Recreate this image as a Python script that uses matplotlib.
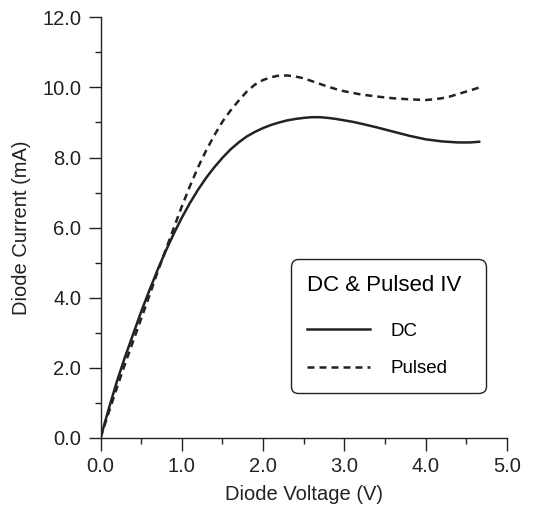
import matplotlib
matplotlib.use("Agg")
import matplotlib.pyplot as plt

plt.rcParams['font.family'] = ['Liberation Sans', 'DejaVu Sans']

# valores
v_dc = [0, 0.1, 0.2, 0.3, 0.4, 0.5, 0.6, 0.7, 0.8, 0.9, 1.0, 1.1, 1.2, 1.3, 1.4, 1.5,
        1.6, 1.7, 1.8, 1.9, 2.0, 2.1, 2.2, 2.3, 2.4, 2.5, 2.6, 2.7, 2.8, 2.9, 3.0,
        3.1, 3.2, 3.4, 3.6, 3.8, 4.0, 4.2, 4.4, 4.55, 4.66]
i_dc = [0, 0.82, 1.6, 2.3, 2.95, 3.6, 4.2, 4.78, 5.32, 5.82, 6.28, 6.7, 7.08, 7.42, 7.72,
        7.99, 8.23, 8.43, 8.6, 8.73, 8.84, 8.93, 9.0, 9.06, 9.1, 9.13, 9.15, 9.15, 9.13,
        9.1, 9.06, 9.02, 8.97, 8.86, 8.74, 8.62, 8.52, 8.46, 8.43, 8.43, 8.45]

v_pulsed = [0, 0.1, 0.2, 0.3, 0.4, 0.5, 0.6, 0.7, 0.8, 0.9, 1.0, 1.1, 1.2, 1.3, 1.4, 1.5,
            1.6, 1.7, 1.8, 1.9, 2.0, 2.1, 2.2, 2.3, 2.4, 2.5, 2.6, 2.7, 2.8, 2.9, 3.0,
            3.2, 3.4, 3.6, 3.8, 4.0, 4.1, 4.2, 4.3, 4.4, 4.5, 4.6, 4.66]
i_pulsed = [0, 0.72, 1.42, 2.1, 2.75, 3.4, 4.05, 4.72, 5.35, 5.98, 6.6, 7.18, 7.72, 8.2,
            8.63, 9.02, 9.34, 9.62, 9.88, 10.08, 10.21, 10.29, 10.34, 10.34, 10.31, 10.26,
            10.18, 10.1, 10.02, 9.95, 9.89, 9.8, 9.74, 9.69, 9.66, 9.64, 9.66, 9.69, 9.74,
            9.81, 9.88, 9.95, 10.0]

x_ticks = [0, 1, 2, 3, 4, 5]
y_ticks = [0, 2, 4, 6, 8, 10, 12]

fig = plt.figure(figsize=(5.36, 5.16), dpi=100)
ax = fig.add_axes([0.1875, 0.1512, 0.758, 0.8153])

cor = "#222222"
ax.plot(v_dc, i_dc, color=cor, lw=1.8, label="DC")
ax.plot(v_pulsed, i_pulsed, color=cor, lw=1.8, dashes=(2.8, 2.0), label="Pulsed")

ax.set_xlim(0, 5)
ax.set_ylim(0, 12)
ax.set_xticks(x_ticks)
ax.set_xticklabels([f"{t:.1f}" for t in x_ticks])
ax.set_yticks(y_ticks)
ax.set_yticklabels([f"{t:.1f}" for t in y_ticks])
ax.set_xticks([0.5, 1.5, 2.5, 3.5, 4.5], minor=True)
ax.set_yticks([1, 3, 5, 7, 9, 11], minor=True)

for s in ["top", "right"]:
    ax.spines[s].set_visible(False)
for s in ["left", "bottom"]:
    ax.spines[s].set_linewidth(1.0)
    ax.spines[s].set_color(cor)

ax.tick_params(which="major", direction="out", length=9, width=1.0, labelsize=14.5,
               colors=cor, pad=5)
ax.tick_params(which="minor", direction="out", length=4.5, width=1.0, colors=cor)

ax.set_xlabel("Diode Voltage (V)", fontsize=14.5, color=cor, labelpad=6)
ax.set_ylabel("Diode Current (mA)", fontsize=14.5, color=cor, labelpad=8)

# legenda com caixa arredondada
leg = ax.legend(title="DC & Pulsed IV", loc="lower left",
                bbox_to_anchor=(0.468, 0.106, 0.48, 0.3), mode="expand",
                fontsize=13.5, title_fontsize=16, frameon=True, fancybox=True,
                handlelength=3.4, handletextpad=1.1, labelspacing=1.1, borderpad=0.85,
                borderaxespad=0)
frame = leg.get_frame()
frame.set_edgecolor(cor)
frame.set_linewidth(1.0)
frame.set_alpha(1)
frame.set_boxstyle("round,pad=0,rounding_size=0.4")
leg._legend_box.sep = 19
leg._legend_box.align = "left"
leg._legend_title_box.align = "center"

fig.savefig("out.png", dpi=100)
